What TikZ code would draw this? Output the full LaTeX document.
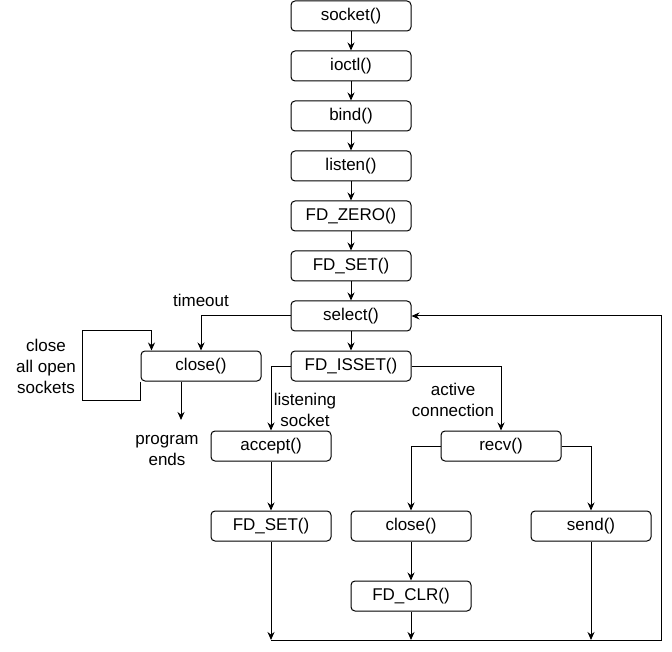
\documentclass[tikz,border=0pt]{standalone}
\usepackage{fontspec}
\setmainfont{Liberation Sans}
\usetikzlibrary{arrows.meta}
\begin{document}
\begin{tikzpicture}[x=1pt,y=-1pt,line width=1pt,
  box/.style={draw, rounded corners=4pt, minimum width=120pt, minimum height=30pt, inner sep=0pt, font=\fontsize{17}{21}\selectfont},
  lbl/.style={align=center, inner sep=0pt, font=\fontsize{17}{21}\selectfont},
  arr/.style={-{Stealth[length=8pt,width=7pt]}}]
\useasboundingbox (0,0) rectangle (672,652);
% main column
\node[box] (socket) at (351,16) {socket()};
\node[box] (ioctl) at (351,66) {ioctl()};
\node[box] (bind) at (351,116) {bind()};
\node[box] (listen) at (351,166) {listen()};
\node[box] (fdzero) at (351,216) {FD\_ZERO()};
\node[box] (fdset) at (351,266) {FD\_SET()};
\node[box] (select) at (351,316) {select()};
\node[box] (isset) at (351,366) {FD\_ISSET()};
\node[box] (closea) at (201,366) {close()};
\node[box] (accept) at (271,446) {accept()};
\node[box] (recv) at (501,446) {recv()};
\node[box] (fdsetb) at (271,526) {FD\_SET()};
\node[box] (closeb) at (411,526) {close()};
\node[box] (send) at (591,526) {send()};
\node[box] (fdclr) at (411,596) {FD\_CLR()};
% labels
\node[lbl] (timeout) at (201,300) {timeout};
\node[lbl] (closeall) at (46,366) {close\\all open\\sockets};
\node[lbl] (progend) at (167,451) {program\\ends};
\node[lbl] (listening) at (305,410) {listening\\socket};
\node[lbl] (active) at (453,400) {active\\connection};
% coordinates
\coordinate (pe) at (181,420);
\coordinate (b1) at (271,640);
\coordinate (b2) at (411,640);
\coordinate (b3) at (591,640);
\coordinate (br) at (661,640);
% edges
\draw[arr] (socket) -- (ioctl);
\draw[arr] (ioctl) -- (bind);
\draw[arr] (bind) -- (listen);
\draw[arr] (listen) -- (fdzero);
\draw[arr] (fdzero) -- (fdset);
\draw[arr] (fdset) -- (select);
\draw[arr] (select) -- (isset);
\draw[arr] (select.west) -| (closea.north);
\draw[arr] (closea.south west) -- ++(0,19) -| (82,331) -| ([xshift=11pt]closea.north west);
\draw[arr] (closea.south -| pe) -- (pe);
\draw[arr] (isset.west) -| (accept.north);
\draw[arr] (isset.east) -| (recv.north);
\draw[arr] (recv.west) -| (closeb.north);
\draw[arr] (recv.east) -| (send.north);
\draw[arr] (accept) -- (fdsetb);
\draw[arr] (closeb) -- (fdclr);
\draw[arr] (fdsetb) -- (b1);
\draw[arr] (fdclr) -- (b2);
\draw[arr] (send) -- (b3);
\draw[arr] (b1) -- (br) |- (select.east);
\end{tikzpicture}
\end{document}
